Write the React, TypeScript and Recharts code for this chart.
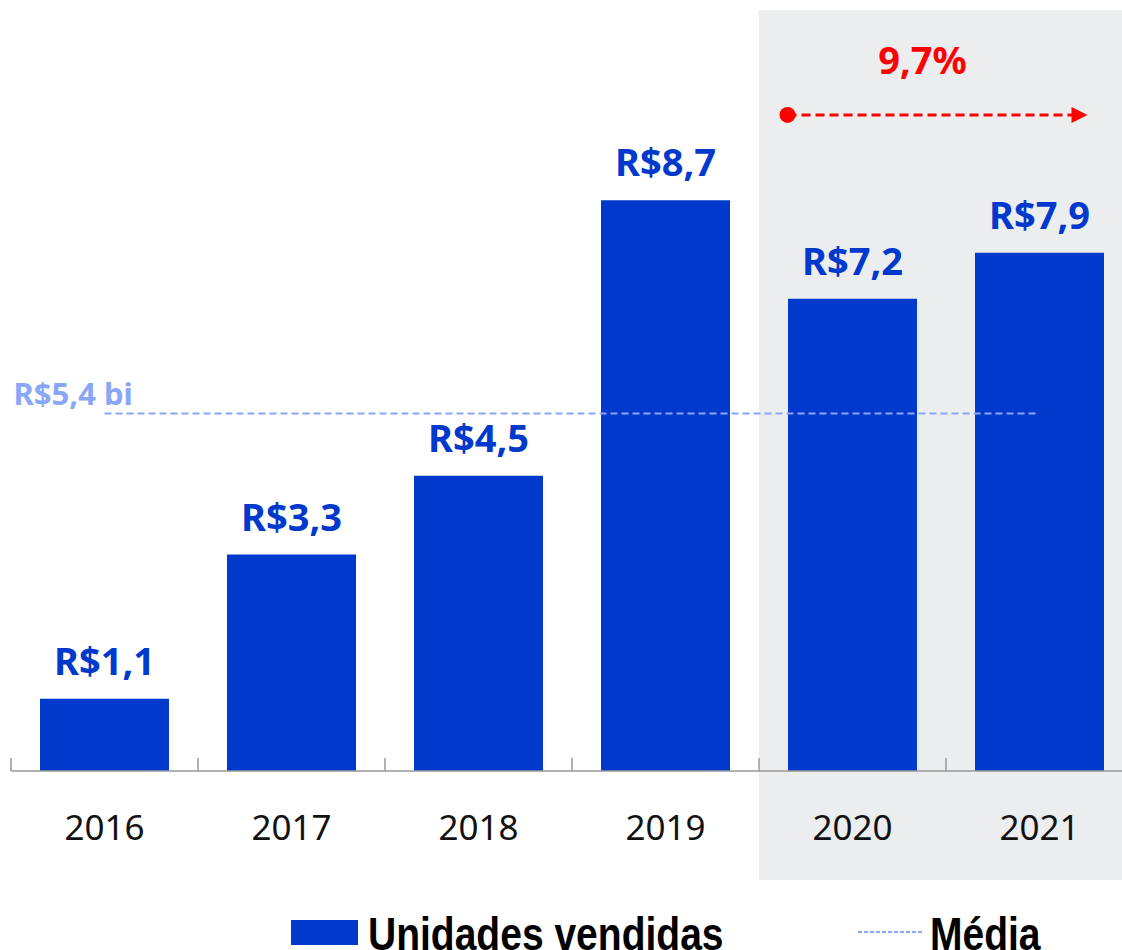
import {
  ComposedChart,
  Bar,
  Line,
  XAxis,
  YAxis,
  ReferenceArea,
  ReferenceLine,
  LabelList,
  Legend,
} from 'recharts';

const anos = ['2016', '2017', '2018', '2019', '2020', '2021'];
const unidades = [1.1, 3.3, 4.5, 8.7, 7.2, 7.9];
const media = [5.45, 5.45, 5.45, 5.45, 5.45, 5.45];
const mediaRotulo = 'R$5,4 bi';
const crescimentoRotulo = '9,7%';

// faixa destacada (2020-2021) e seta de crescimento
const destaqueAnos = ['2020', '2021'];
const destaqueY = [-1.66, 11.6];
const setaY = 10;
const marcaAltura = 0.2;

const AZUL = '#0039CC';
const AZUL_CLARO = '#8AA6F8';
const VERMELHO = '#FF0000';
const FONTE = "'Noto Sans', sans-serif";
const FONTE_LEGENDA = "'Liberation Sans', Arial, sans-serif";

const dados = anos.map((ano, i) => ({ ano, valor: unidades[i], media: media[i] }));

function formatarValor(v: any) {
  return 'R$' + String(v).replace('.', ',');
}

function RotuloMedia(props: any) {
  const { x, y, index } = props;
  if (index !== 0) return null;
  return (
    <text
      x={x - 91}
      y={y - 8}
      fill={AZUL_CLARO}
      fontSize={31}
      fontWeight={700}
      fontFamily={FONTE}
    >
      {mediaRotulo}
    </text>
  );
}

// seta tracejada entre os centros de 2020 e 2021, um pouco alargada
function Seta(props: any) {
  const { x1, y1, x2 } = props;
  if (x1 == null) return null;
  const ini = x1 - 65;
  const fim = x2 + 48;
  return (
    <g>
      <line
        x1={ini}
        y1={y1}
        x2={fim - 14}
        y2={y1}
        stroke={VERMELHO}
        strokeWidth={3}
        strokeDasharray="9 5"
      />
      <circle cx={ini} cy={y1} r={8} fill={VERMELHO} />
      <polygon points={`${fim},${y1} ${fim - 16},${y1 - 8} ${fim - 16},${y1 + 8}`} fill={VERMELHO} />
      <text
        x={(ini + fim) / 2 - 15}
        y={y1 - 41}
        textAnchor="middle"
        fill={VERMELHO}
        fontSize={38}
        fontWeight={700}
        fontFamily={FONTE}
      >
        {crescimentoRotulo}
      </text>
    </g>
  );
}

function Legenda(props: any) {
  const payload = props.payload || [];
  const barra = payload.find((p: any) => p.dataKey === 'valor');
  const linha = payload.find((p: any) => p.dataKey === 'media');
  const texto = {
    fontFamily: FONTE_LEGENDA,
    fontWeight: 700,
    fontSize: 47,
    color: '#000',
    lineHeight: '47px',
    whiteSpace: 'nowrap' as const,
    display: 'inline-block',
    transform: 'scaleX(0.83)',
    transformOrigin: 'left top',
    marginTop: 5,
  };
  return (
    <div style={{ display: 'flex', height: 45, paddingLeft: 291, alignItems: 'flex-start' }}>
      {barra && (
        <div style={{ display: 'flex', alignItems: 'flex-start', width: 567 }}>
          <div style={{ width: 67, height: 25, background: AZUL, marginTop: 15, marginRight: 10 }} />
          <span style={texto}>{barra.value}</span>
        </div>
      )}
      {linha && (
        <div style={{ display: 'flex', alignItems: 'flex-start' }}>
          <svg width={64} height={45} style={{ marginRight: 8 }}>
            <line x1={0} y1={27} x2={64} y2={27} stroke={AZUL_CLARO} strokeWidth={2} strokeDasharray="4 2" />
          </svg>
          <span style={texto}>{linha.value}</span>
        </div>
      )}
    </div>
  );
}

export default function App() {
  return (
    <div
      style={{
        position: 'absolute',
        left: 0,
        top: 0,
        width: 1122,
        height: 950,
        overflow: 'hidden',
        background: '#fff',
      }}
    >
      <ComposedChart
        width={1140}
        height={950}
        data={dados}
        margin={{ top: 10, right: 7, left: 11, bottom: 0 }}
      >
        <ReferenceArea
          x1={destaqueAnos[0]}
          x2={destaqueAnos[1]}
          y1={destaqueY[0]}
          y2={destaqueY[1]}
          fill="#ECEDEF"
          fillOpacity={1}
          stroke="none"
          ifOverflow="visible"
        />
        <XAxis
          dataKey="ano"
          axisLine={{ stroke: '#999', strokeWidth: 1.5 }}
          tickLine={false}
          height={134}
          tickMargin={38}
          tick={{ fill: '#111', fontSize: 35, fontFamily: FONTE }}
        />
        <YAxis hide domain={[0, 11.6]} allowDataOverflow />
        {anos.map((ano) => (
          <ReferenceLine
            key={ano}
            segment={[
              { x: ano, y: 0 },
              { x: ano, y: marcaAltura },
            ]}
            position="start"
            stroke="#999"
            strokeWidth={1.5}
          />
        ))}
        <Bar dataKey="valor" name="Unidades vendidas" fill={AZUL} barSize={129} isAnimationActive={false}>
          <LabelList
            dataKey="valor"
            position="top"
            offset={24}
            formatter={formatarValor}
            fill={AZUL}
            fontSize={38}
            fontWeight={700}
            fontFamily={FONTE}
          />
        </Bar>
        <Line
          dataKey="media"
          name="Média"
          stroke={AZUL_CLARO}
          strokeWidth={2}
          strokeDasharray="7 4"
          dot={false}
          activeDot={false}
          isAnimationActive={false}
          label={RotuloMedia}
        />
        <ReferenceLine
          segment={[
            { x: destaqueAnos[0], y: setaY },
            { x: destaqueAnos[1], y: setaY },
          ]}
          position="middle"
          shape={Seta}
          ifOverflow="visible"
        />
        <Legend verticalAlign="bottom" content={Legenda} wrapperStyle={{ left: 0, bottom: 0 }} />
      </ComposedChart>
    </div>
  );
}
